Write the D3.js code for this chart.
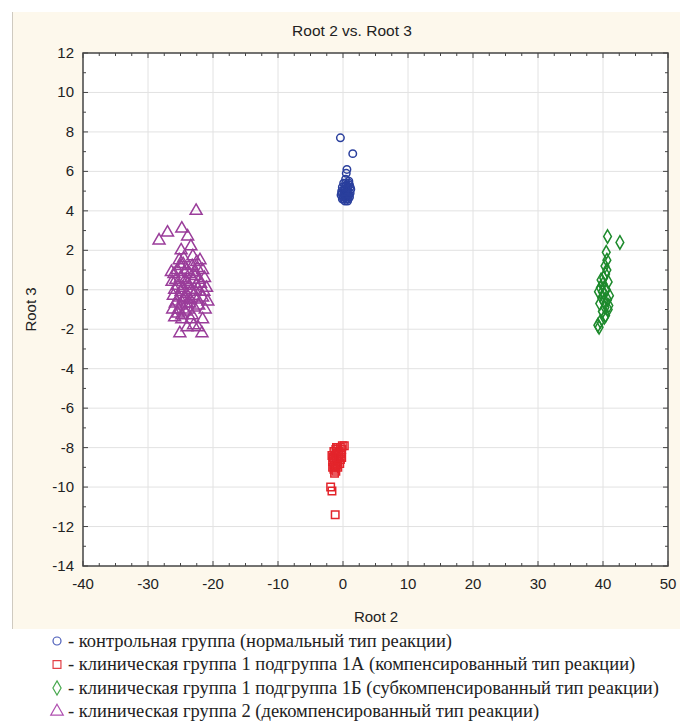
<!DOCTYPE html>
<html>
<head>
<meta charset="utf-8">
<script src="https://cdn.jsdelivr.net/npm/d3@7"></script>
<style>
  body { margin: 0; background: #fff; }
  svg { display: block; }
</style>
</head>
<body>
<svg id="chart" width="680" height="724"></svg>
<script>
// group points, [root2, root3]
var control = [
  [-0.4,7.7],[1.5,6.9],[0.6,6.1],[0.5,5.9],[0.4,5.6],[0.9,5.5],[0.1,5.4],[1.0,5.3],
  [0.5,5.3],[-0.1,5.2],[0.7,5.2],[1.2,5.1],[0.3,5.1],[-0.2,5.0],[0.8,5.0],[0.5,4.9],
  [1.1,4.9],[0.2,4.9],[-0.3,4.8],[0.7,4.8],[0.0,4.7],[1.0,4.7],[0.4,4.7],[-0.1,4.6],
  [0.5,4.6],[0.8,4.6],[0.2,4.8],[0.6,5.0],[0.9,5.4],[0.1,5.0],[0.4,5.1],[0.3,4.5],
  [-0.2,4.9],[0.9,4.8],[0.3,5.2],[1.1,5.2],[0.6,4.7],[0.1,4.6],[0.7,4.5],[0.4,5.4]
];
var group1A = [
  [-0.1,-7.9],[0.2,-7.9],[-0.4,-8.0],[-0.8,-8.0],[-0.2,-8.1],[-1.1,-8.1],[-0.6,-8.2],
  [-1.4,-8.2],[-0.9,-8.3],[-0.3,-8.3],[-1.2,-8.4],[-0.7,-8.4],[-1.5,-8.5],[-1.0,-8.5],
  [-0.4,-8.6],[-1.3,-8.6],[-0.8,-8.7],[-1.6,-8.7],[-1.1,-8.8],[-0.5,-8.8],[-1.4,-8.9],
  [-0.9,-8.9],[-1.6,-9.0],[-1.2,-9.0],[-0.8,-9.0],[-1.4,-9.1],[-1.1,-9.2],[-1.3,-9.3],
  [-1.7,-8.4],[-0.2,-8.5],[-0.6,-8.5],[-1.0,-8.0],[-1.9,-10.0],[-1.7,-10.2],[-1.2,-11.4]
];
var group1B = [
  [40.7,2.7],[42.6,2.4],[40.5,1.9],[40.6,1.5],[40.3,1.2],[40.4,0.8],[40.1,0.6],[40.8,0.4],
  [39.6,0.1],[39.3,-0.1],[40.2,-0.2],[39.8,-0.4],[40.7,-0.5],[41.0,-0.3],[39.5,-0.7],
  [40.3,-0.9],[40.9,-0.8],[39.9,-1.1],[40.4,-1.3],[39.6,-1.6],[39.2,-1.8],[40.0,0.3],
  [40.5,0.0],[39.7,0.5],[40.8,-1.0],[40.2,-1.4],[39.4,-1.9],[40.6,1.0],[39.9,-0.1],
  [40.1,-0.6]
];
var group2 = [
  [-22.6,4.0],[-27.0,2.9],[-28.3,2.5],[-24.8,3.1],[-23.9,2.7],[-23.4,2.2],[-24.9,2.0],
  [-22.0,1.5],[-25.2,1.5],[-24.6,1.3],[-23.2,1.2],[-22.4,1.1],[-25.5,1.0],[-21.6,1.0],
  [-24.0,1.0],[-26.0,0.8],[-23.6,0.8],[-22.8,0.7],[-25.0,0.6],[-21.3,0.6],[-24.3,0.5],
  [-22.1,0.5],[-26.3,0.4],[-23.9,0.3],[-25.4,0.2],[-22.6,0.2],[-24.7,0.1],[-21.0,0.1],
  [-23.3,0.0],[-25.9,0.0],[-22.0,-0.1],[-24.1,-0.2],[-26.1,-0.3],[-23.0,-0.3],[-25.2,-0.4],
  [-21.6,-0.4],[-24.6,-0.5],[-22.4,-0.5],[-20.8,-0.6],[-25.8,-0.7],[-23.6,-0.7],[-24.9,-0.8],
  [-22.9,-0.9],[-26.2,-1.0],[-21.2,-1.0],[-24.3,-1.1],[-25.4,-1.2],[-23.2,-1.3],[-24.8,-1.5],
  [-21.6,-1.5],[-25.9,-1.4],[-23.0,-1.8],[-22.3,-1.9],[-24.0,-1.9],[-25.1,-2.2],[-21.7,-2.2],
  [-24.4,0.9],[-23.0,0.5],[-24.9,-0.1],[-23.5,-0.5],[-22.7,-0.1],[-25.6,-0.6],[-24.1,0.4],
  [-23.8,-1.0],[-22.5,1.4],[-25.0,1.2],[-24.2,-0.4],[-23.7,0.2],[-26.4,0.9],[-25.3,-1.0],
  [-22.2,-0.8],[-24.5,1.6],[-23.1,1.7],[-21.9,0.3],[-24.8,-1.3],[-23.4,-1.5],[-25.7,0.5],
  [-21.4,-0.1],[-22.9,0.9],[-24.0,-0.7]
];

var xTicks = [-40, -30, -20, -10, 0, 10, 20, 30, 40, 50];
var yTicks = [12, 10, 8, 6, 4, 2, 0, -2, -4, -6, -8, -10, -12, -14];
var legendLabels = [
  "- контрольная группа (нормальный тип реакции)",
  "- клиническая группа 1 подгруппа 1А (компенсированный тип реакции)",
  "- клиническая группа 1 подгруппа 1Б (субкомпенсированный тип реакции)",
  "- клиническая группа 2 (декомпенсированный тип реакции)"
];

var svg = d3.select("#chart");
var sans = "Liberation Sans, Arial, sans-serif";

// cream panel
svg.append("rect").attr("x", 12).attr("y", 12).attr("width", 668).attr("height", 617)
  .attr("fill", "#fdf8ec");
svg.append("line").attr("x1", 12.5).attr("x2", 12.5).attr("y1", 12).attr("y2", 629)
  .attr("stroke", "#cfcac0");

var x = d3.scaleLinear().domain([-40, 50]).range([83, 668]);
var y = d3.scaleLinear().domain([-14, 12]).range([566, 53]);

svg.append("rect").attr("x", x(-40)).attr("y", y(12))
  .attr("width", x(50) - x(-40)).attr("height", y(-14) - y(12)).attr("fill", "#fff");

// grid
svg.append("g").selectAll("line").data(xTicks.slice(1, -1)).join("line")
  .attr("x1", d => x(d)).attr("x2", d => x(d)).attr("y1", y(12)).attr("y2", y(-14))
  .attr("stroke", "#e2e2e2");
svg.append("g").selectAll("line").data(yTicks.slice(1, -1)).join("line")
  .attr("x1", x(-40)).attr("x2", x(50)).attr("y1", d => y(d)).attr("y2", d => y(d))
  .attr("stroke", "#e2e2e2");

// ticks, inside the frame
var minorX = d3.range(-40, 50.01, 2.5).filter(d => d % 10 !== 0);
var minorY = d3.range(-14, 12.01, 1).filter(d => d % 2 !== 0);
var tk = svg.append("g").attr("stroke", "#444");
[y(12), y(-14)].forEach(function(py, i) {
  var dir = i === 0 ? 1 : -1;
  tk.append("g").selectAll("line").data(xTicks).join("line")
    .attr("x1", d => x(d)).attr("x2", d => x(d)).attr("y1", py).attr("y2", py + dir * 5);
  tk.append("g").selectAll("line").data(minorX).join("line")
    .attr("x1", d => x(d)).attr("x2", d => x(d)).attr("y1", py).attr("y2", py + dir * 3);
});
[x(-40), x(50)].forEach(function(px, i) {
  var dir = i === 0 ? 1 : -1;
  tk.append("g").selectAll("line").data(yTicks).join("line")
    .attr("y1", d => y(d)).attr("y2", d => y(d)).attr("x1", px).attr("x2", px + dir * 5);
  tk.append("g").selectAll("line").data(minorY).join("line")
    .attr("y1", d => y(d)).attr("y2", d => y(d)).attr("x1", px).attr("x2", px + dir * 3);
});

svg.append("rect").attr("x", x(-40)).attr("y", y(12))
  .attr("width", x(50) - x(-40)).attr("height", y(-14) - y(12))
  .attr("fill", "none").attr("stroke", "#444").attr("stroke-width", 1.5);

// tick labels
svg.append("g").selectAll("text").data(xTicks).join("text")
  .attr("x", d => x(d)).attr("y", 589).attr("text-anchor", "middle")
  .attr("font-family", sans).attr("font-size", 15).attr("fill", "#222")
  .text(d => d);
svg.append("g").selectAll("text").data(yTicks).join("text")
  .attr("x", 74).attr("y", d => y(d) + 5).attr("text-anchor", "end")
  .attr("font-family", sans).attr("font-size", 15).attr("fill", "#222")
  .text(d => d);

svg.append("text").attr("x", 352).attr("y", 36).attr("text-anchor", "middle")
  .attr("font-family", sans).attr("font-size", 15.5).attr("fill", "#222")
  .text("Root 2 vs. Root 3");
svg.append("text").attr("x", 376).attr("y", 622).attr("text-anchor", "middle")
  .attr("font-family", sans).attr("font-size", 15).attr("fill", "#222")
  .text("Root 2");
svg.append("text").attr("transform", "translate(36," + y(-1) + ") rotate(-90)")
  .attr("text-anchor", "middle")
  .attr("font-family", sans).attr("font-size", 15).attr("fill", "#222")
  .text("Root 3");

// markers
var groups = [
  { pts: control, color: "#2a3f9d", sym: d3.symbolCircle, size: 44 },
  { pts: group1A, color: "#e3242b", sym: d3.symbolSquare, size: 56 },
  { pts: group1B, color: "#1d8a2c", sym: d3.symbolDiamond, size: 52 },
  { pts: group2, color: "#9a3d9a", sym: d3.symbolTriangle, size: 62 }
];
groups.forEach(function(g) {
  svg.append("g").selectAll("path").data(g.pts).join("path")
    .attr("d", d3.symbol().type(g.sym).size(g.size))
    .attr("transform", d => "translate(" + x(d[0]) + "," + y(d[1]) + ")")
    .attr("fill", "none").attr("stroke", g.color).attr("stroke-width", 1.5);
});

// legend
var legendColors = ["#4a5cb8", "#e34046", "#48a84f", "#b050b0"];
var lg = svg.append("g").selectAll("g").data(legendLabels).join("g")
  .attr("transform", (d, i) => "translate(57," + (641 + i * 23.5) + ")");
lg.append("path")
  .attr("d", (d, i) => d3.symbol().type(groups[i].sym).size(groups[i].size + 6)())
  .attr("fill", "none").attr("stroke", (d, i) => legendColors[i]).attr("stroke-width", 1.2);
lg.append("text").attr("x", 11).attr("y", 5.5)
  .attr("font-family", "Liberation Serif, Times New Roman, serif").attr("font-size", 18.5)
  .attr("fill", "#222").text(d => d);
</script>
</body>
</html>
